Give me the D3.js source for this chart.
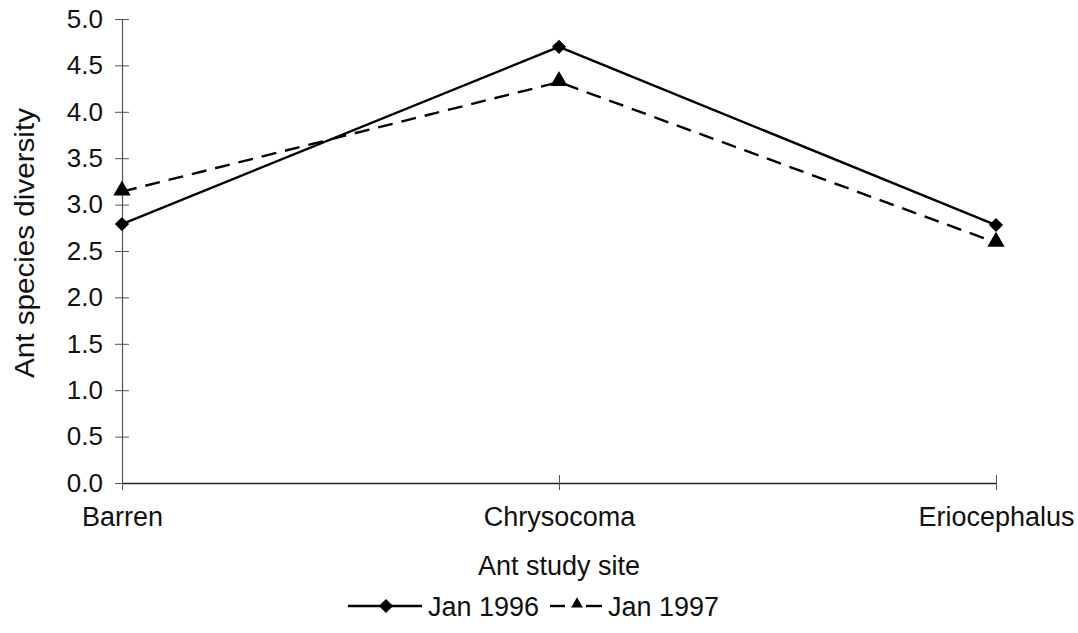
<!DOCTYPE html>
<html>
<head>
<meta charset="utf-8">
<script src="https://cdn.jsdelivr.net/npm/d3@7"></script>
<style>
  body { margin: 0; background: #fff; }
  text { font-family: "Liberation Sans", Arial, sans-serif; fill: #111; }
</style>
</head>
<body>
<div id="chart"></div>
<script>
const sites = ['Barren', 'Chrysocoma', 'Eriocephalus'];
const jan1996 = [2.79, 4.70, 2.78];
const jan1997 = [3.14, 4.32, 2.59];
const yTicks = [0, 0.5, 1, 1.5, 2, 2.5, 3, 3.5, 4, 4.5, 5];

const width = 1078;
const height = 633;
const margin = {left: 122, right: 82, top: 19, bottom: 150};

const svg = d3.select('#chart')
  .append('svg')
  .attr('width', width)
  .attr('height', height);

const x = d3.scalePoint()
  .domain(sites)
  .range([margin.left, width - margin.right]);

const y = d3.scaleLinear()
  .domain([0, 5])
  .range([height - margin.bottom, margin.top]);

// y axis, ticks cross the line
const yAxis = svg.append('g')
  .attr('transform', 'translate(' + margin.left + ',0)')
  .call(d3.axisLeft(y).tickValues(yTicks).tickFormat(d3.format('.1f')).tickSizeInner(7).tickSizeOuter(0).tickPadding(12));
yAxis.attr('font-size', null);
yAxis.select('.domain').attr('stroke', '#555').attr('stroke-width', 1.2);
yAxis.selectAll('.tick line').attr('x1', 7).attr('x2', -7).attr('stroke', '#555');
yAxis.selectAll('.tick text').style('font-size', '26px').attr('fill', '#111');

// x axis
const xAxis = svg.append('g')
  .attr('transform', 'translate(0,' + y(0) + ')')
  .call(d3.axisBottom(x).tickSizeInner(7).tickSizeOuter(0).tickPadding(22));
xAxis.attr('font-size', null);
xAxis.select('.domain').attr('stroke', '#222').attr('stroke-width', 1.4);
xAxis.selectAll('.tick line').attr('y1', -8).attr('y2', 7).attr('stroke', '#555');
xAxis.selectAll('.tick text').style('font-size', '27px').attr('fill', '#111').attr('dy', '0.5em');

// titles
svg.append('text')
  .attr('x', x('Chrysocoma'))
  .attr('y', 575)
  .attr('text-anchor', 'middle')
  .style('font-size', '27px')
  .text('Ant study site');

svg.append('text')
  .attr('transform', 'translate(34,243) rotate(-90)')
  .attr('text-anchor', 'middle')
  .attr('textLength', 270)
  .attr('lengthAdjust', 'spacingAndGlyphs')
  .style('font-size', '27px')
  .text('Ant species diversity');

const line = d3.line()
  .x(function(d, i) { return x(sites[i]); })
  .y(function(d) { return y(d); });

svg.append('path')
  .datum(jan1996)
  .attr('d', line)
  .attr('fill', 'none')
  .attr('stroke', '#000')
  .attr('stroke-width', 2.4);

svg.append('path')
  .datum(jan1997)
  .attr('d', line)
  .attr('fill', 'none')
  .attr('stroke', '#000')
  .attr('stroke-width', 2.4)
  .attr('stroke-dasharray', '15,9');

const diamond = d3.symbol().type(d3.symbolSquare).size(100);
const triangle = d3.symbol().type(d3.symbolTriangle).size(130);
const smallTriangle = d3.symbol().type(d3.symbolTriangle).size(60);

svg.selectAll('.m1996')
  .data(jan1996)
  .enter().append('path')
  .attr('class', 'm1996')
  .attr('d', diamond)
  .attr('transform', function(d, i) { return 'translate(' + x(sites[i]) + ',' + y(d) + ') rotate(45)'; });

svg.selectAll('.m1997')
  .data(jan1997)
  .enter().append('path')
  .attr('class', 'm1997')
  .attr('d', triangle)
  .attr('transform', function(d, i) { return 'translate(' + x(sites[i]) + ',' + (y(d) - 1) + ')'; });

// legend
const legend = svg.append('g').attr('transform', 'translate(0,606)');
legend.append('line')
  .attr('x1', 348).attr('x2', 422).attr('y1', 0).attr('y2', 0)
  .attr('stroke', '#000').attr('stroke-width', 2.4);
legend.append('path').attr('d', diamond).attr('transform', 'translate(386,0) rotate(45)');
legend.append('text').attr('x', 428).attr('y', 10).style('font-size', '27px').text('Jan 1996');

legend.append('line')
  .attr('x1', 550).attr('x2', 565).attr('y1', 0).attr('y2', 0)
  .attr('stroke', '#000').attr('stroke-width', 2.4);
legend.append('line')
  .attr('x1', 586).attr('x2', 602).attr('y1', 0).attr('y2', 0)
  .attr('stroke', '#000').attr('stroke-width', 2.4);
legend.append('path').attr('d', smallTriangle).attr('transform', 'translate(577,-2)');
legend.append('text').attr('x', 608).attr('y', 10).style('font-size', '27px').text('Jan 1997');
</script>
</body>
</html>
